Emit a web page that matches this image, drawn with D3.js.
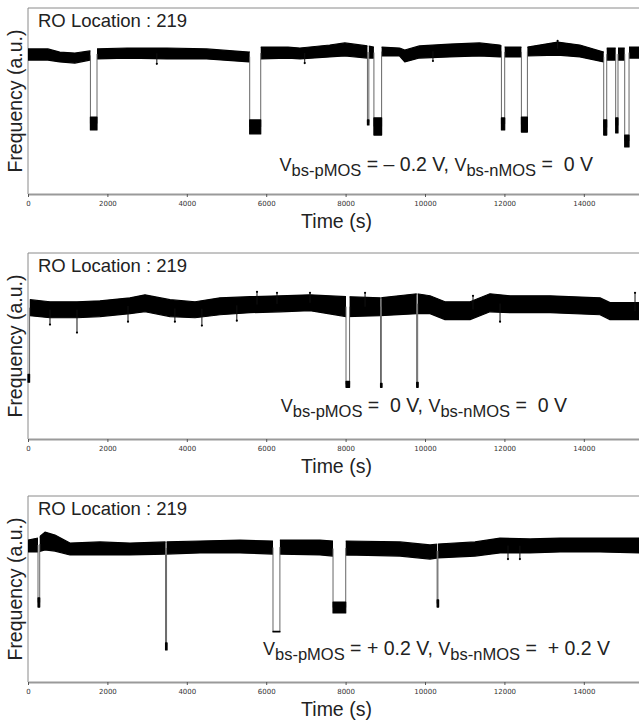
<!DOCTYPE html>
<html>
<head>
<meta charset="utf-8">
<script src="https://cdn.jsdelivr.net/npm/d3@7"></script>
<style>
body { margin: 0; background: #fff; }
text { font-family: "Liberation Sans", Arial, sans-serif; }
</style>
</head>
<body>
<div id="viz"></div>
<script>

const width = 639
const height = 723

// shared x axis
const timeDomain = [0, 15390]
const xTicks = [0, 2000, 4000, 6000, 8000, 10000, 12000, 14000]
const roLabel = "RO Location : 219"

// panel 1 : Vbs-pMOS = -0.2 V, Vbs-nMOS = 0 V
const p1BaseTime = [0, 500, 800, 1180, 1560, 1740, 2500, 3500, 4500, 5570, 5870, 6550, 6850, 7600, 7980, 8550, 8710, 8910, 9360, 9490, 9860, 10620, 11370, 11880, 12010, 12420, 12580, 13340, 13900, 14500, 14580, 14800, 14860, 15030, 15140, 15390]
const p1BaseHigh = [78.0, 78.0, 76.3, 75.8, 76.9, 78.0, 78.5, 78.5, 78.0, 76.3, 79.0, 79.0, 78.5, 80.1, 81.2, 79.6, 79.0, 79.0, 78.5, 77.4, 79.6, 80.6, 81.2, 80.1, 79.0, 79.0, 79.0, 81.7, 80.1, 76.3, 78.5, 78.5, 78.5, 78.5, 79.0, 79.0]
const p1BaseLow = [72.0, 72.0, 71.0, 70.4, 72.0, 72.6, 73.1, 72.6, 72.6, 71.0, 72.6, 73.1, 72.6, 73.7, 74.2, 73.1, 73.1, 74.2, 74.2, 71.0, 73.1, 73.7, 74.2, 73.7, 73.7, 73.7, 74.2, 74.7, 73.7, 71.0, 72.0, 72.0, 72.0, 72.0, 73.1, 73.1]
const p1DipStart = [1572, 5584, 8550, 8713, 11925, 12428, 14501, 14803, 15030]
const p1DipEnd = [1738, 5862, 8585, 8907, 12007, 12579, 14577, 14861, 15139]
const p1DipHigh = [41.4, 39.8, 39.8, 40.9, 40.9, 41.4, 39.8, 40.9, 31.7]
const p1DipLow = [34.4, 32.3, 37.1, 31.7, 34.4, 33.3, 31.7, 32.8, 25.3]
const p1SpikeTime = [3245, 6970, 10200, 13340]
const p1SpikeValue = [70.0, 70.4, 71.5, 82.3]
const p1Text = [" = \u2013 0.2 V, ", " =  0 V"]

// panel 2 : Vbs-pMOS = 0 V, Vbs-nMOS = 0 V
const p2BaseTime = [50, 554, 1234, 1814, 2569, 2947, 3577, 4207, 4836, 5592, 6348, 7103, 8010, 8867, 9798, 10126, 10504, 11134, 11637, 12141, 13149, 14408, 14660, 15390]
const p2BaseHigh = [74.9, 73.8, 73.8, 74.3, 75.9, 77.5, 74.9, 73.8, 75.9, 76.5, 77.0, 77.5, 76.5, 75.9, 78.1, 77.0, 73.8, 73.8, 78.1, 77.0, 77.0, 75.9, 73.3, 73.3]
const p2BaseLow = [66.3, 65.2, 65.2, 65.8, 67.4, 68.4, 65.8, 65.2, 66.8, 67.9, 68.4, 69.0, 65.8, 66.3, 67.4, 67.4, 64.2, 64.2, 68.4, 67.9, 67.9, 66.8, 64.2, 64.2]
const p2DipStart = [0, 8010, 8880, 9790]
const p2DipEnd = [40, 8100, 8900, 9815]
const p2DipHigh = [34.8, 31.0, 29.9, 30.5]
const p2DipLow = [30.5, 27.8, 27.8, 27.8]
const p2SpikeTime = [554, 1234, 2519, 3700, 4380, 5260, 11890, 5768, 6272, 7103, 8490, 11209, 15290]
const p2SpikeValue = [61.5, 57.2, 63.1, 63.1, 61.0, 63.6, 63.1, 79.1, 78.6, 78.6, 78.6, 77.0, 78.6]
const p2Text = [" =  0 V, ", " =  0 V"]

// panel 3 : Vbs-pMOS = +0.2 V, Vbs-nMOS = +0.2 V
const p3BaseTime = [0, 252, 428, 680, 1058, 1814, 2569, 3476, 4332, 5340, 6171, 6348, 7355, 7683, 8010, 9370, 10126, 10327, 11260, 11889, 12645, 13401, 14408, 15390]
const p3BaseHigh = [76.3, 77.4, 80.6, 79.0, 74.7, 75.3, 74.7, 75.3, 75.8, 76.3, 75.8, 76.3, 76.3, 75.8, 75.8, 75.3, 73.7, 74.2, 75.3, 77.4, 76.9, 77.4, 77.4, 77.4]
const p3BaseLow = [69.9, 69.9, 71.0, 70.4, 68.3, 68.3, 68.3, 68.8, 69.4, 69.4, 68.8, 68.8, 68.3, 67.7, 68.3, 67.7, 66.1, 66.7, 67.7, 69.4, 69.4, 69.9, 69.9, 69.4]
const p3DipStart = [252, 3465, 6171, 7683, 10305]
const p3DipEnd = [295, 3490, 6345, 8003, 10325]
const p3DipHigh = [45.2, 21.0, 27.2, 43.0, 44.1]
const p3DipLow = [40.3, 17.2, 26.9, 37.1, 40.3]
const p3SpikeTime = [12090, 12390]
const p3SpikeValue = [66.1, 66.1]
const p3Text = [" = + 0.2 V, ", " =  + 0.2 V"]

const panels = [
    {top: 8, baseTime: p1BaseTime, high: p1BaseHigh, low: p1BaseLow, dipStart: p1DipStart, dipEnd: p1DipEnd, dipHigh: p1DipHigh, dipLow: p1DipLow, spikeTime: p1SpikeTime, spikeValue: p1SpikeValue, text: p1Text, textEnd: 593, textUp: 23},
    {top: 253, baseTime: p2BaseTime, high: p2BaseHigh, low: p2BaseLow, dipStart: p2DipStart, dipEnd: p2DipEnd, dipHigh: p2DipHigh, dipLow: p2DipLow, spikeTime: p2SpikeTime, spikeValue: p2SpikeValue, text: p2Text, textEnd: 567, textUp: 27},
    {top: 496, baseTime: p3BaseTime, high: p3BaseHigh, low: p3BaseLow, dipStart: p3DipStart, dipEnd: p3DipEnd, dipHigh: p3DipHigh, dipLow: p3DipLow, spikeTime: p3SpikeTime, spikeValue: p3SpikeValue, text: p3Text, textEnd: 610, textUp: 27}
]

const panelHeight = 186
const textColor = "#222"

const svg = d3.select("#viz").append("svg").attr("width", width).attr("height", height)

const xScale = d3.scaleLinear().domain(timeDomain).range([28, 639])
const yScale = d3.scaleLinear().domain([0, 100]).range([panelHeight, 0])

panels.forEach((p, i) => {
    const g = svg.append("g").attr("transform", `translate(0, ${p.top})`)
    const [x0, x1] = xScale.range()

    // frame (top + left)
    g.append("path").attr("d", `M${x0},${panelHeight} V0 H${x1}`).attr("fill", "none").attr("stroke", "#8a8a8a").attr("stroke-width", 1)

    // baseline centre, used to hook the transition lines
    const mid = d3.scaleLinear().domain(p.baseTime).range(p.baseTime.map((t, j) => (p.high[j] + p.low[j]) / 2)).clamp(true)

    // gaps between dips -> clip for the baseline band
    const gaps = []
    let prev = timeDomain[0]
    p.dipStart.forEach((s, j) => { gaps.push([prev, s]); prev = p.dipEnd[j] })
    gaps.push([prev, timeDomain[1]])

    const clip = g.append("clipPath").attr("id", "baseClip" + i)
    clip.selectAll("rect").data(gaps.filter(d => d[1] > d[0])).enter().append("rect")
        .attr("x", d => xScale(d[0])).attr("width", d => xScale(d[1]) - xScale(d[0]))
        .attr("y", -10).attr("height", panelHeight + 20)

    const baseData = p.baseTime.map((t, j) => ({t: t, high: p.high[j], low: p.low[j]}))
    const area = d3.area().x(d => xScale(d.t)).y0(d => yScale(d.low)).y1(d => yScale(d.high))
    g.append("path").datum(baseData).attr("d", area).attr("clip-path", `url(#baseClip${i})`)
        .attr("fill", "#000").attr("stroke", "#000").attr("stroke-width", 1.2).attr("stroke-linejoin", "round")

    // single-sample spikes
    const spikes = p.spikeTime.map((t, j) => ({t: t, v: p.spikeValue[j]}))
    g.selectAll(".spike").data(spikes).enter().append("line").attr("class", "spike")
        .attr("x1", d => xScale(d.t)).attr("x2", d => xScale(d.t))
        .attr("y1", d => yScale(mid(d.t))).attr("y2", d => yScale(d.v))
        .attr("stroke", "#111").attr("stroke-width", 1)
    g.selectAll(".spikeDot").data(spikes).enter().append("circle").attr("class", "spikeDot")
        .attr("cx", d => xScale(d.t)).attr("cy", d => yScale(d.v)).attr("r", 1.1).attr("fill", "#000")

    // dips
    const dips = p.dipStart.map((s, j) => ({s: s, e: p.dipEnd[j], hi: p.dipHigh[j], lo: p.dipLow[j]}))
    const edges = []
    dips.forEach(d => {
        const c = (d.hi + d.lo) / 2
        if (d.s > timeDomain[0]) edges.push({t: d.s, a: mid(d.s), b: c})
        edges.push({t: d.e, a: mid(d.e), b: c})
    })
    g.selectAll(".edge").data(edges).enter().append("line").attr("class", "edge")
        .attr("x1", d => xScale(d.t)).attr("x2", d => xScale(d.t))
        .attr("y1", d => yScale(d.a)).attr("y2", d => yScale(d.b))
        .attr("stroke", "#666").attr("stroke-width", 1)
    g.selectAll(".dip").data(dips).enter().append("rect").attr("class", "dip")
        .attr("x", d => xScale(d.s)).attr("width", d => Math.max(1.5, xScale(d.e) - xScale(d.s)))
        .attr("y", d => yScale(d.hi)).attr("height", d => yScale(d.lo) - yScale(d.hi))
        .attr("fill", "#000").attr("stroke", "#000").attr("stroke-width", 1.2).attr("stroke-linejoin", "round")

    // x axis
    const xAxis = d3.axisBottom(xScale).tickValues(xTicks).tickSize(3).tickSizeOuter(0).tickFormat(d3.format("d"))
    const axisG = g.append("g").attr("transform", `translate(0, ${panelHeight})`).call(xAxis)
    axisG.select(".domain").attr("stroke", "#9a9a9a").attr("stroke-width", 2)
    axisG.selectAll(".tick line").attr("stroke", "#555")
    axisG.selectAll(".tick text").attr("fill", "#333").attr("font-size", 7).attr("dy", "0.9em")
        .style("font-family", "'DejaVu Sans', sans-serif")

    // labels
    g.append("text").attr("x", 38).attr("y", 19).attr("fill", textColor).attr("font-size", 18.5).text(roLabel)

    g.append("text").attr("transform", `translate(22, ${panelHeight / 2}) rotate(-90)`)
        .attr("text-anchor", "middle").attr("fill", textColor).attr("font-size", 19.5).text("Frequency (a.u.)")

    g.append("text").attr("x", (x0 + x1) / 2 + 3).attr("y", panelHeight + 34)
        .attr("text-anchor", "middle").attr("fill", textColor).attr("font-size", 19.5).text("Time (s)")

    // bias annotation
    const ann = g.append("text").attr("x", p.textEnd).attr("y", panelHeight - p.textUp)
        .attr("text-anchor", "end").attr("fill", textColor).style("white-space", "pre")
    ann.append("tspan").attr("font-size", 18).text("V")
    ann.append("tspan").attr("font-size", 16.5).attr("dy", 5).text("bs-pMOS")
    ann.append("tspan").attr("font-size", 19.5).attr("dy", -5).text(p.text[0])
    ann.append("tspan").attr("font-size", 18).text("V")
    ann.append("tspan").attr("font-size", 16.5).attr("dy", 5).text("bs-nMOS")
    ann.append("tspan").attr("font-size", 19.5).attr("dy", -5).text(p.text[1])
})

</script>
</body>
</html>
